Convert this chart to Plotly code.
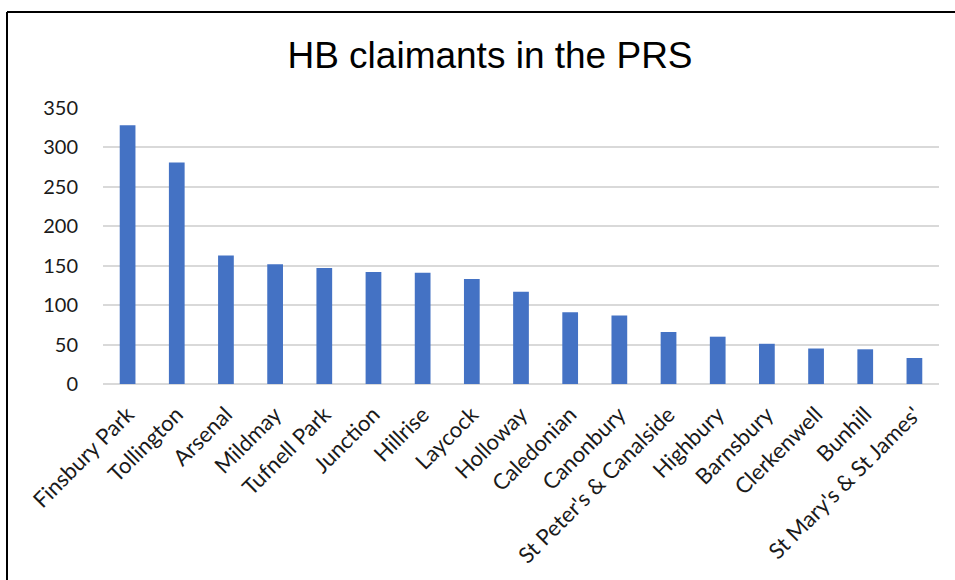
import plotly.graph_objects as go

wards = ["Finsbury Park", "Tollington", "Arsenal", "Mildmay", "Tufnell Park", "Junction",
         "Hillrise", "Laycock", "Holloway", "Caledonian", "Canonbury",
         "St Peter's & Canalside", "Highbury", "Barnsbury", "Clerkenwell", "Bunhill",
         "St Mary's & St James'"]
claimants = [328, 281, 163, 152, 147, 142, 141, 133, 117, 91, 87, 66, 60, 51, 45, 44, 33]
y_ticks = [0, 50, 100, 150, 200, 250, 300, 350]
title_text = "HB claimants in the PRS"

fig = go.Figure(go.Bar(x=wards, y=claimants, marker=dict(color="#4472C4", line=dict(width=0)),
                       width=0.32))

W, H = 955, 580
L, T = 103, 108
R = W - 939
B = H - 384
pw, ph = W - L - R, H - T - B

fx0 = (7 - L) / pw
fx1 = (W + 40 - L) / pw
fy_top = 1 + (T - 12) / ph
fy_bot = -(B + 40) / ph

fig.update_layout(
    width=W, height=H,
    margin=dict(l=L, r=R, t=T, b=B, autoexpand=False),
    paper_bgcolor="white", plot_bgcolor="white",
    showlegend=False,
    title=dict(text=title_text, x=490 / W, xanchor="center", xref="container",
               y=1 - 55 / H, yanchor="middle", yref="container",
               font=dict(family="Liberation Sans, Arial", size=37, color="#000000")),
    font=dict(family="Lato, Calibri, sans-serif", size=20, color="#1a1a1a"),
    xaxis=dict(tickangle=-45, showgrid=False, showline=False, zeroline=False,
               ticks="outside", ticklen=8, tickcolor="rgba(0,0,0,0)",
               tickfont=dict(size=22), range=[-0.5, len(wards) - 0.5]),
    yaxis=dict(range=[0, 350], tickvals=y_ticks, showgrid=True, gridcolor="#d9d9d9",
               gridwidth=1.5, zeroline=True, zerolinecolor="#d9d9d9", zerolinewidth=1.5,
               showline=False, ticks="outside", ticklen=20, tickcolor="rgba(0,0,0,0)",
               tickfont=dict(size=20)),
    shapes=[
        dict(type="line", xref="paper", yref="paper", x0=fx0, x1=fx0, y0=fy_bot, y1=fy_top,
             line=dict(color="black", width=2), layer="below"),
        dict(type="line", xref="paper", yref="paper", x0=fx0, x1=fx1, y0=fy_top, y1=fy_top,
             line=dict(color="black", width=2), layer="below"),
    ],
)

fig.write_html("out.html", config={"displayModeBar": False},
               post_script="document.body.style.margin='0';document.body.style.overflow='hidden';")
